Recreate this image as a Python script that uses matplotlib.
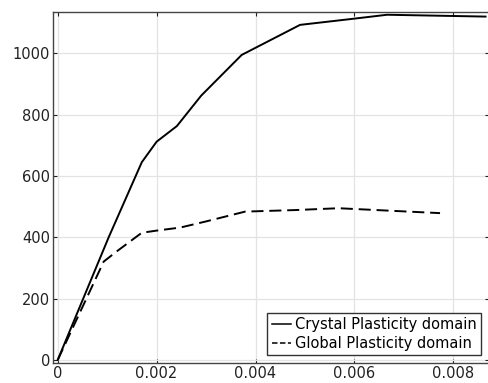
import matplotlib
matplotlib.use("Agg")
import matplotlib.pyplot as plt
from matplotlib.lines import Line2D

# strain / stress values
cp_strain = [0, 0.00103, 0.0017, 0.002, 0.00241, 0.0029, 0.00372, 0.0049, 0.00598, 0.00666, 0.00865]
cp_stress = [0, 400, 645, 712, 763, 862, 995, 1093, 1113, 1126, 1120]

gp_strain = [0, 0.00093, 0.0012, 0.0017, 0.002, 0.00248, 0.003, 0.00379, 0.0048, 0.00568, 0.00773]
gp_stress = [0, 321, 355, 415, 422, 432, 452, 484, 489, 495, 479]

x_ticks = [0, 0.002, 0.004, 0.006, 0.008]
x_labels = ["0", "0.002", "0.004", "0.006", "0.008"]
y_ticks = [0, 200, 400, 600, 800, 1000]
labels = ['Crystal Plasticity domain', 'Global Plasticity domain']

plt.rcParams['font.family'] = 'DejaVu Sans'
plt.rcParams['font.size'] = 10.5

fig = plt.figure(figsize=(4.89, 3.83), dpi=100)
ax = fig.add_axes([0.1094, 0.053, 0.8896, 0.9165])

ax.plot(cp_strain, cp_stress, color='black', lw=1.4)
ax.plot(gp_strain, gp_stress, color='black', lw=1.4, dashes=(6.2, 3.0))

ax.set_xlim(-0.000085, 0.00871)
ax.set_ylim(-8.8, 1136)
ax.set_xticks(x_ticks)
ax.set_xticklabels(x_labels)
ax.set_yticks(y_ticks)
ax.grid(True, color='#e3e3e3', lw=0.9)
ax.set_axisbelow(True)
ax.tick_params(direction='in', length=3, top=True, right=True, pad=2.5, colors='#222222',
               labelcolor='#222222')
for s in ax.spines.values():
    s.set_color('#444444')
    s.set_linewidth(1.0)

# legend proxies: dashed one shows two short dashes like the original
handles = [Line2D([], [], color='black', lw=1.1),
           Line2D([], [], color='black', lw=1.1, dashes=(3.6, 1.6))]
leg = ax.legend(handles, labels, loc='lower right', handlelength=1.3, handletextpad=0.3,
                fancybox=False, framealpha=1, edgecolor='#333333', borderaxespad=0.5,
                borderpad=0.3, labelspacing=0.25, fontsize=10.5)
leg.get_frame().set_linewidth(1.0)

fig.savefig('out.png', dpi=100)
